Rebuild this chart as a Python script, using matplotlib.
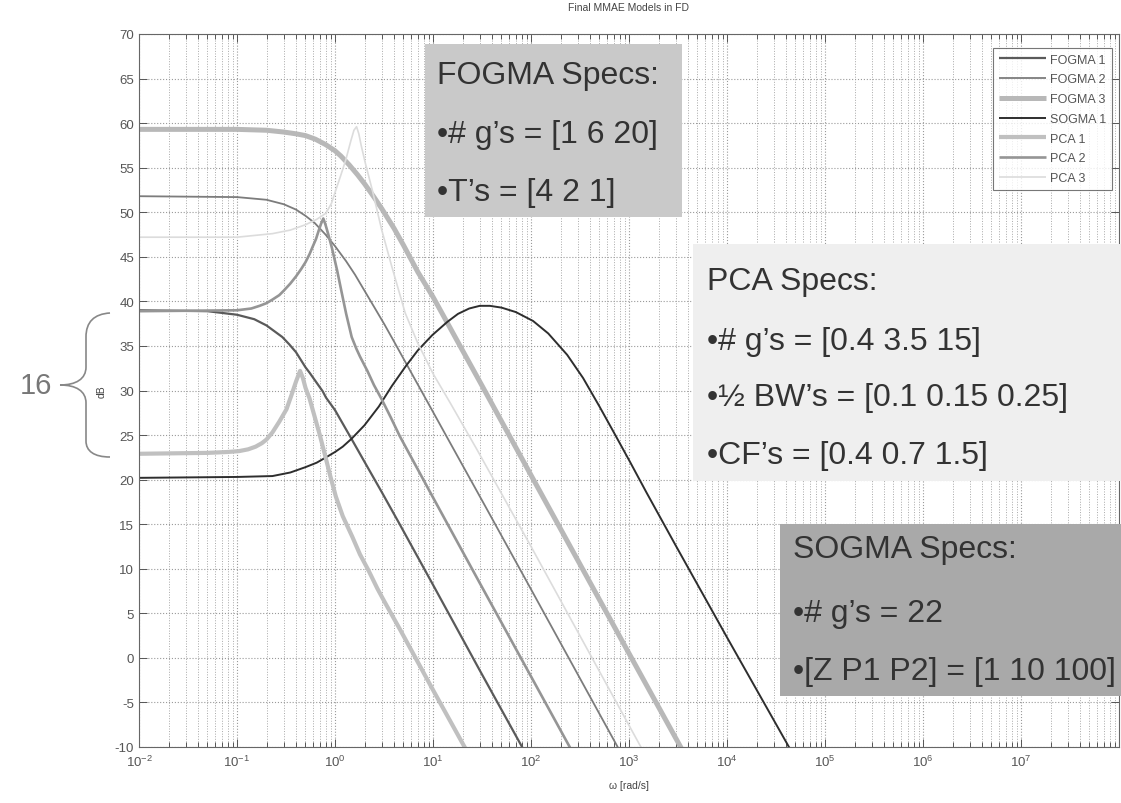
import matplotlib
matplotlib.use("Agg")
import matplotlib.pyplot as plt
from matplotlib.patches import Rectangle, PathPatch
from matplotlib.path import Path
from matplotlib.lines import Line2D
from matplotlib.ticker import LogLocator, NullFormatter, FixedLocator

plt.rcParams['font.family'] = ['Liberation Sans', 'DejaVu Sans']
plt.rcParams['mathtext.fontset'] = 'custom'
plt.rcParams['mathtext.rm'] = 'Liberation Sans'
plt.rcParams['mathtext.it'] = 'Liberation Sans:italic'
plt.rcParams['axes.unicode_minus'] = False

W, H = 1121, 804

# --- data: (omega [rad/s], magnitude [dB]) ---
fogma1_w = [0.01, 0.05, 0.1, 0.15, 0.2, 0.29, 0.34, 0.4, 0.5, 0.55, 0.75, 0.81, 1.0, 1.4, 2.0, 3.0, 4.57, 10, 30, 90]
fogma1_db = [39.0, 38.9, 38.5, 38.0, 37.3, 36.0, 35.2, 34.3, 32.6, 32.0, 29.9, 29.2, 27.8, 25.0, 22.0, 18.6, 15.0, 8.2,
             -1.4, -10.9]

fogma2_w = [0.01, 0.1, 0.2, 0.3, 0.4, 0.5, 0.62, 0.8, 1.0, 1.3, 1.6, 2.0, 2.5, 3.2, 4.0, 6.0, 10, 15, 35, 100, 900]
fogma2_db = [51.8, 51.7, 51.4, 50.9, 50.3, 49.6, 48.8, 47.5, 46.2, 44.5, 43.0, 41.2, 39.4, 37.4, 35.5, 32.0, 27.6,
             24.1, 16.8, 7.7, -11.4]

fogma3_w = [0.01, 0.1, 0.2, 0.3, 0.4, 0.5, 0.63, 0.8, 1.0, 1.15, 1.4, 1.7, 2, 2.5, 3, 4, 5, 7, 10, 15, 20, 30,
            100, 1000, 4000]
fogma3_db = [59.3, 59.3, 59.2, 59.0, 58.8, 58.6, 58.2, 57.6, 56.9, 56.3, 55.3, 54.2, 53.2, 51.7, 50.4, 48.2, 46.3,
             43.3, 40.5, 37.0, 34.5, 31.0, 20.5, 0.5, -11.5]

sogma1_w = [0.01, 0.1, 0.23, 0.35, 0.5, 0.65, 0.81, 1.0, 1.2, 1.48, 2.0, 2.8, 3.8, 5.25, 7, 9.8, 14, 18, 23.4, 30,
            38, 50, 70, 105, 150, 234, 340, 500, 700, 1023, 1500, 3000, 10000, 50000]
sogma1_db = [20.2, 20.3, 20.4, 20.8, 21.4, 21.9, 22.5, 23.1, 23.7, 24.6, 26.1, 28.2, 30.5, 32.7, 34.5, 36.2, 37.7,
             38.6, 39.2, 39.5, 39.5, 39.3, 38.8, 37.8, 36.4, 34.0, 31.4, 28.2, 25.3, 22.0, 18.6, 12.6, 2.3, -11.3]

pca1_w = [0.01, 0.05, 0.08, 0.105, 0.13, 0.155, 0.18, 0.2, 0.23, 0.27, 0.32, 0.36, 0.4, 0.44, 0.47, 0.5, 0.55,
          0.59, 0.7, 0.81, 0.9, 1.02, 1.2, 1.5, 1.8, 2.2, 2.7, 3.2, 4.6, 10, 25]
pca1_db = [22.9, 23.0, 23.1, 23.2, 23.4, 23.7, 24.1, 24.5, 25.3, 26.5, 27.9, 29.5, 31.0, 32.2, 31.4, 30.3, 29.1,
           27.9, 25.0, 22.3, 20.3, 18.1, 15.9, 13.6, 11.6, 9.8, 7.8, 6.3, 3.2, -3.6, -11.5]

pca2_w = [0.01, 0.1, 0.14, 0.17, 0.2, 0.23, 0.27, 0.3, 0.35, 0.4, 0.45, 0.5, 0.55, 0.59, 0.64, 0.68, 0.72, 0.76,
          0.8, 0.85, 0.93, 1.05, 1.17, 1.3, 1.48, 1.65, 1.8, 2.14, 2.5, 3, 3.7, 4.57, 6, 10, 30, 260]
pca2_db = [38.9, 39.0, 39.2, 39.5, 39.8, 40.2, 40.7, 41.2, 42.0, 42.8, 43.6, 44.4, 45.3, 46.1, 47.0, 47.9, 48.7,
           49.3, 48.6, 47.6, 46.0, 43.5, 41.0, 38.6, 36.0, 34.7, 33.8, 32.2, 30.6, 29.0, 27.0, 24.9, 22.5, 18.0,
           8.4, -10.4]

pca3_w = [0.01, 0.1, 0.23, 0.35, 0.5, 0.65, 0.81, 0.92, 1.02, 1.15, 1.29, 1.45, 1.56, 1.66, 1.75, 1.85, 2.04, 2.4,
          3.0, 3.8, 5.2, 7, 10, 15, 28, 100, 1400]
pca3_db = [47.2, 47.2, 47.6, 48.0, 48.6, 49.2, 49.9, 51.0, 52.5, 54.2, 55.9, 58.0, 59.2, 59.6, 58.8, 57.5, 55.5,
           52.5, 48.0, 43.9, 38.7, 35.3, 31.9, 28.6, 23.4, 12.5, -10.5]

labels = ['FOGMA 1', 'FOGMA 2', 'FOGMA 3', 'SOGMA 1', 'PCA 1', 'PCA 2', 'PCA 3']
series = [(fogma1_w, fogma1_db), (fogma2_w, fogma2_db), (fogma3_w, fogma3_db), (sogma1_w, sogma1_db),
          (pca1_w, pca1_db), (pca2_w, pca2_db), (pca3_w, pca3_db)]
colors = ['#5a5a5a', '#7c7c7c', '#b8b8b8', '#2e2e2e', '#c0c0c0', '#959595', '#dcdcdc']
widths = [1.6, 1.3, 3.6, 1.4, 3.0, 1.9, 1.2]

y_ticks = list(range(-10, 71, 5))
x_major = [1e-2, 1e-1, 1e0, 1e1, 1e2, 1e3, 1e4, 1e5, 1e6, 1e7]


def fx(px):
    return px / W


def fy(py):
    return 1 - py / H


fig = plt.figure(figsize=(W / 100, H / 100), dpi=100)
ax = fig.add_axes([fx(139), fy(748), fx(1119) - fx(139), fy(35) - fy(748)])

for (w, db), lab, c, lw in zip(series, labels, colors, widths):
    ax.semilogx(w, db, color=c, lw=lw, label=lab, solid_capstyle='butt', solid_joinstyle='round')

ax.set_xlim(1e-2, 1e8)
ax.set_ylim(-10, 70)
ax.set_yticks(y_ticks)
ax.xaxis.set_major_locator(FixedLocator(x_major))
ax.xaxis.set_minor_locator(LogLocator(base=10, subs=range(2, 10), numticks=20))
ax.xaxis.set_minor_formatter(NullFormatter())
ax.tick_params(which='both', direction='in', top=True, right=True, colors='#555',
               labelcolor='#555', labelsize=9.5, width=0.7)
ax.tick_params(which='major', length=6)
ax.tick_params(which='minor', length=3.5)
ax.tick_params(axis='x', pad=5)
ax.grid(True, which='major', ls=':', color='#9a9a9a', lw=0.8)
ax.xaxis.grid(True, which='minor', ls=':', color='#a8a8a8', lw=0.7)
for s in ax.spines.values():
    s.set_color('#666')
    s.set_linewidth(0.8)

ax.set_title('Final MMAE Models in FD', fontsize=7.5, color='#444', pad=17)
ax.set_xlabel('ω [rad/s]', fontsize=7.5, color='#444', labelpad=8)
ax.set_ylabel('dB', fontsize=7.5, color='#444', labelpad=6)

leg = ax.legend(loc='upper right', bbox_to_anchor=(fx(1112), fy(49)), bbox_transform=fig.transFigure,
                fontsize=9, handlelength=3.8, labelspacing=0.62, borderpad=0.45, handletextpad=0.3,
                frameon=True, fancybox=False, borderaxespad=0)
leg.get_frame().set_edgecolor('#555')
leg.get_frame().set_linewidth(0.8)
for t in leg.get_texts():
    t.set_color('#555')

# spec boxes
boxes = [(425, 45, 682, 218, '#c9c9c9'),
         (693, 245, 1121, 482, '#efefef'),
         (780, 525, 1121, 697, '#a9a9a9')]
for x0, y0, x1, y1, c in boxes:
    fig.add_artist(Rectangle((fx(x0), fy(y1)), fx(x1) - fx(x0), fy(y0) - fy(y1),
                             transform=fig.transFigure, facecolor=c, edgecolor='none', zorder=5))

txt_kw = dict(fontsize=23, color='#333', va='baseline', ha='left', zorder=6)
fogma_lines = ['FOGMA Specs:', '•# g’s = [1 6 20]', '•T’s = [4 2 1]']
pca_lines = ['PCA Specs:', '•# g’s = [0.4 3.5 15]', '•½ BW’s = [0.1 0.15 0.25]', '•CF’s = [0.4 0.7 1.5]']
sogma_lines = ['SOGMA Specs:', '•# g’s = 22', '•[Z P1 P2] = [1 10 100]']
for s, yb in zip(fogma_lines, [84, 143, 201]):
    fig.text(fx(437), fy(yb), s, **txt_kw)
for s, yb in zip(pca_lines, [290, 350, 406, 464]):
    fig.text(fx(707), fy(yb), s, **txt_kw)
for s, yb in zip(sogma_lines, [558, 622, 680]):
    fig.text(fx(793), fy(yb), s, **txt_kw)

# curly brace + "16" on the left
brace_px = [(110, 314), (94, 315), (86, 323), (86, 338),
            (86, 368),
            (86, 380), (76, 386), (60, 386),
            (76, 386), (86, 392), (86, 404),
            (86, 442),
            (86, 452), (94, 458), (110, 458)]
codes = [Path.MOVETO, Path.CURVE4, Path.CURVE4, Path.CURVE4,
         Path.LINETO,
         Path.CURVE4, Path.CURVE4, Path.CURVE4,
         Path.CURVE4, Path.CURVE4, Path.CURVE4,
         Path.LINETO,
         Path.CURVE4, Path.CURVE4, Path.CURVE4]
brace = Path([(fx(x), fy(y)) for x, y in brace_px], codes)
fig.add_artist(PathPatch(brace, transform=fig.transFigure, facecolor='none', edgecolor='#888', lw=1.2))
fig.text(fx(36), fy(386), '16', fontsize=21, color='#777', ha='center', va='center')

# partial chevron at right edge
fig.add_artist(Line2D([fx(1121), fx(1093), fx(1121)], [fy(312), fy(362), fy(407)],
                      transform=fig.transFigure, color='#999', lw=1.4))

fig.savefig('out.png', dpi=100)
